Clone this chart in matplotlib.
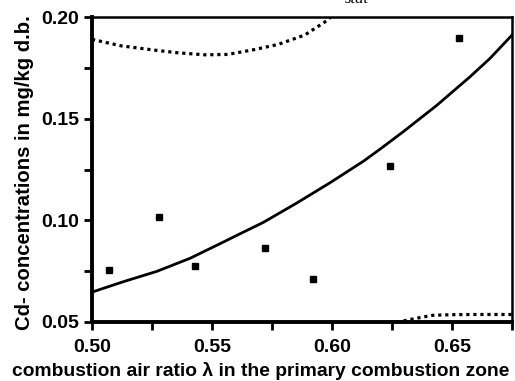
import matplotlib
matplotlib.use('Agg')
import matplotlib.pyplot as plt
from matplotlib.ticker import MultipleLocator, FormatStrFormatter

# measured points
lam = [0.507, 0.528, 0.543, 0.572, 0.592, 0.624, 0.653]
cd = [0.0757, 0.1017, 0.0776, 0.0866, 0.0711, 0.1265, 0.1896]

# fitted curve
fit_x = [0.5000, 0.5130, 0.5270, 0.5408, 0.5547, 0.5617, 0.5714, 0.5853, 0.5992,
         0.6130, 0.6200, 0.6297, 0.6436, 0.6575, 0.6658, 0.6750]
fit_y = [0.0647, 0.0698, 0.0749, 0.0813, 0.0893, 0.0934, 0.0990, 0.1085, 0.1185,
         0.1290, 0.1350, 0.1436, 0.1565, 0.1706, 0.1796, 0.1911]

# upper confidence bound
up_x = [0.5000, 0.5122, 0.5261, 0.5358, 0.5470, 0.5567, 0.5678, 0.5775, 0.5886, 0.5976, 0.5995]
up_y = [0.1890, 0.1858, 0.1837, 0.1824, 0.1814, 0.1816, 0.1840, 0.1865, 0.1911, 0.1980, 0.2000]

# lower confidence bound
lo_x = [0.6240, 0.6283, 0.6350, 0.6420, 0.6500, 0.6600, 0.6750]
lo_y = [0.0500, 0.0502, 0.0518, 0.0533, 0.0536, 0.0537, 0.0537]

plt.rcParams['font.family'] = ['Liberation Sans', 'DejaVu Sans']

fig = plt.figure(figsize=(5.15, 3.81), dpi=100)
ax = fig.add_axes([92 / 515, 1 - 322 / 381, 420 / 515, 305 / 381])

ax.plot(fit_x, fit_y, color='black', lw=2.0)
ax.plot(up_x, up_y, color='black', lw=2.3, linestyle=(0, (1, 1.2)))
ax.plot(lo_x, lo_y, color='black', lw=2.3, linestyle=(0, (1, 1.2)))
ax.plot(lam, cd, 's', color='black', markersize=5, zorder=5)

ax.set_xlim(0.50, 0.675)
ax.set_ylim(0.05, 0.20)
ax.xaxis.set_major_locator(MultipleLocator(0.05))
ax.xaxis.set_minor_locator(MultipleLocator(0.025))
ax.yaxis.set_major_locator(MultipleLocator(0.05))
ax.yaxis.set_minor_locator(MultipleLocator(0.025))
ax.xaxis.set_major_formatter(FormatStrFormatter('%.2f'))
ax.yaxis.set_major_formatter(FormatStrFormatter('%.2f'))

for s in ['left', 'bottom']:
    ax.spines[s].set_linewidth(2.8)
for s in ['top', 'right']:
    ax.spines[s].set_linewidth(1.8)

ax.tick_params(which='both', direction='out', width=2, top=False, right=False)
ax.tick_params(which='major', length=6, labelsize=14)
ax.tick_params(axis='x', which='major', pad=6)
ax.tick_params(axis='y', which='major', pad=3)
ax.tick_params(which='minor', length=6)
for lab in ax.get_xticklabels() + ax.get_yticklabels():
    lab.set_fontweight('bold')

ax.set_xlabel('combustion air ratio \u03bb in the primary combustion zone',
              fontsize=13.9, fontweight='bold')
ax.set_ylabel('Cd- concentrations in mg/kg d.b.', fontsize=14.6, fontweight='bold')
ax.xaxis.set_label_coords(0.402, -0.13)
ax.yaxis.set_label_coords(-0.137, 0.49)

fig.text(0.67, 1 - 3 / 381, 'stat', fontsize=12, style='italic',
         family=['Liberation Serif'], va='baseline', ha='left')

fig.savefig('out.png', dpi=100)
